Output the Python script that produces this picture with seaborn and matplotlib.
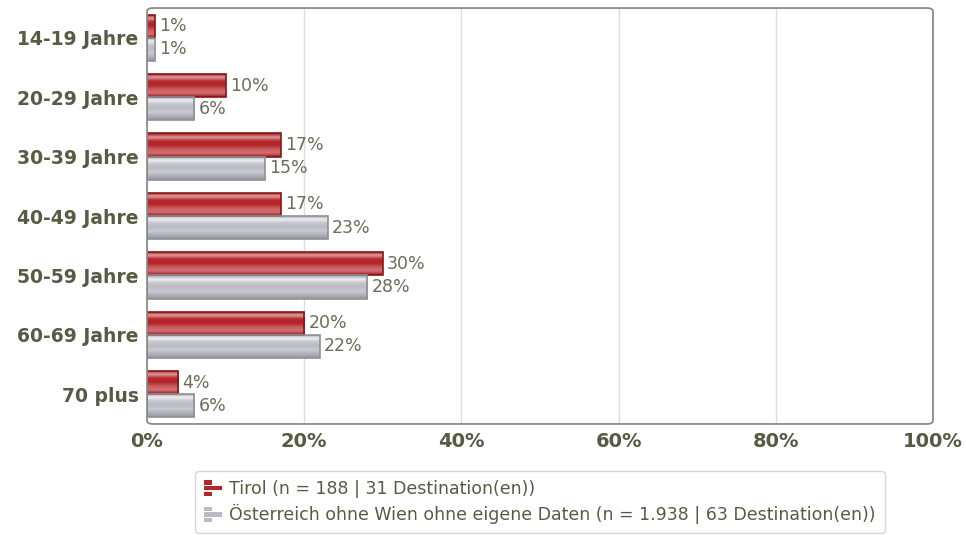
import numpy as np
import pandas as pd
import matplotlib
matplotlib.use("Agg")
import matplotlib.pyplot as plt
from matplotlib.colors import LinearSegmentedColormap
from matplotlib.patches import Patch, FancyBboxPatch, Rectangle
from matplotlib.legend_handler import HandlerBase
import seaborn as sns

categories = ["14-19 Jahre", "20-29 Jahre", "30-39 Jahre", "40-49 Jahre",
              "50-59 Jahre", "60-69 Jahre", "70 plus"]
series_names = ["Tirol (n = 188 | 31 Destination(en))",
                "Österreich ohne Wien ohne eigene Daten (n = 1.938 | 63 Destination(en))"]
tirol = [1, 10, 17, 17, 30, 20, 4]
oesterreich = [1, 6, 15, 23, 28, 22, 6]
x_ticks = [0, 20, 40, 60, 80, 100]

df = pd.DataFrame({
    "Alter": categories * 2,
    "Anteil": tirol + oesterreich,
    "Gruppe": [series_names[0]] * len(categories) + [series_names[1]] * len(categories),
})

sns.set_theme(style="white")
plt.rcParams["font.family"] = ["DejaVu Sans"]

text_dark = "#5a5a44"
text_val = "#6c6c58"
base_colors = {series_names[0]: "#b3262b", series_names[1]: "#b9bbc2"}
edge_colors = {series_names[0]: "#8a1418", series_names[1]: "#8e9098"}
gradients = {
    series_names[0]: ["#8f1a1d", "#e09a9a", "#b8282c", "#b02427", "#c95a5c", "#d27072", "#9c1d20"],
    series_names[1]: ["#9a9ca4", "#eeeff2", "#c4c6cc", "#babcc3", "#c9cad0", "#b0b2b9", "#95979f"],
}


class BarIconHandler(HandlerBase):
    """Small three-bar icon used as legend key."""
    def create_artists(self, legend, orig_handle, xdescent, ydescent,
                       width, height, fontsize, trans):
        fc = orig_handle.get_facecolor()
        rows = [0.45, 1.0, 0.45]
        h = height / 3.4
        step = (height - h) / 2
        arts = []
        for i, frac in enumerate(rows):
            y = -ydescent + height - h - i * step
            arts.append(Rectangle((-xdescent, y), width * frac, h * 0.85, facecolor=fc,
                                  edgecolor="none", transform=trans))
        return arts


fig = plt.figure(figsize=(9.66, 5.35), dpi=100)
ax = fig.add_axes([0.1522, 0.2075, 0.8136, 0.7775])

sns.barplot(data=df, y="Alter", x="Anteil", hue="Gruppe", orient="h",
            palette=base_colors, width=0.78, ax=ax, legend=False, zorder=3)

ax.set_xlim(0, 100)
ax.set_xticks(x_ticks)
ax.set_xticklabels([f"{t}%" for t in x_ticks], fontsize=14, fontweight="bold", color=text_dark)
ax.set_yticks(range(len(categories)))
ax.set_yticklabels(categories, fontsize=13.5, fontweight="bold", color=text_dark)
ax.tick_params(axis="both", length=0, pad=6)
ax.set_xlabel("")
ax.set_ylabel("")
for x in x_ticks[1:-1]:
    ax.axvline(x, color="#dddddd", lw=1, zorder=1)

xlim, ylim = ax.get_xlim(), ax.get_ylim()
ax.set_autoscale_on(False)

# glossy vertical gradient inside each bar
for container, name in zip(ax.containers, series_names):
    cmap = LinearSegmentedColormap.from_list(name[:5], gradients[name])
    grad = np.linspace(0, 1, 64).reshape(-1, 1)
    for patch in container.patches:
        x0, y0 = patch.get_x(), patch.get_y()
        w, h = patch.get_width(), patch.get_height()
        im = ax.imshow(grad, cmap=cmap, aspect="auto", interpolation="bilinear",
                       extent=(x0, x0 + w, y0 + h, y0), zorder=2.5)
        im.set_clip_path(patch)
        patch.set_facecolor("none")
        patch.set_edgecolor(edge_colors[name])
        patch.set_linewidth(1.2)
        patch.set_zorder(3)
    ax.bar_label(container, fmt="%d%%", padding=3, fontsize=12.5, color=text_val)

ax.set_xlim(xlim)
ax.set_ylim(ylim)

for s in ax.spines.values():
    s.set_visible(False)
frame = FancyBboxPatch((0, 0), 1, 1, boxstyle="round,pad=0,rounding_size=0.008",
                       transform=ax.transAxes, facecolor="none", edgecolor="#8a8a8a",
                       lw=1.3, clip_on=False, zorder=5)
ax.add_patch(frame)

handles = [Patch(facecolor=base_colors[n], edgecolor=edge_colors[n]) for n in series_names]
leg = ax.legend(handles, series_names, loc="upper center", bbox_to_anchor=(0.5, -0.092),
                frameon=True, fancybox=True, fontsize=12.5, labelcolor=text_dark,
                handlelength=1.0, handleheight=1.1, handletextpad=0.45,
                borderpad=0.5, labelspacing=0.35, edgecolor="#cccccc",
                handler_map={Patch: BarIconHandler()})
leg.get_frame().set_linewidth(1.0)

fig.savefig("out.png", dpi=100, facecolor="white")
